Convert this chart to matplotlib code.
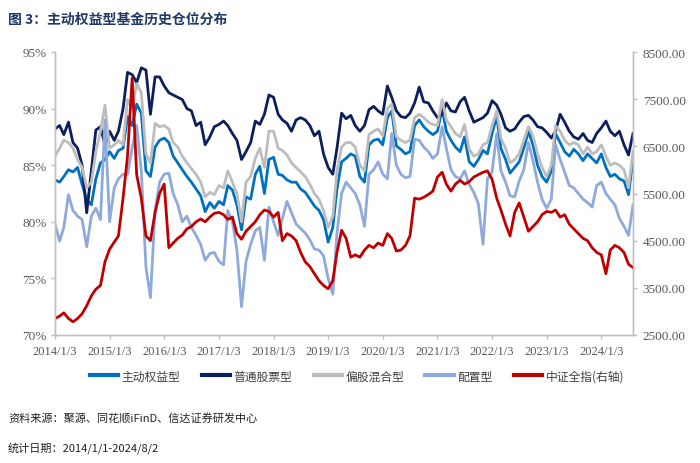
import matplotlib
matplotlib.use("Agg")
import matplotlib.pyplot as plt
import matplotlib.dates as mdates
import pandas as pd
from matplotlib.ticker import FuncFormatter

plt.rcParams['font.family'] = ['Liberation Serif', 'Noto Sans CJK SC', 'DejaVu Sans']

# ---------------- data ----------------
dates = [pd.Timestamp(2014, 1, 3) + pd.DateOffset(months=i) for i in range(127)] + [pd.Timestamp(2024, 8, 2)]

active_equity = [  # 主动权益型 (%)
    83.7, 83.5, 84.0, 84.6, 84.4, 84.8, 83.3, 82.0, 81.5, 83.8, 85.2, 85.5,
    86.2, 85.6, 86.3, 86.5, 89.3, 88.5, 90.4, 89.6, 84.5, 84.0, 86.6, 87.2,
    87.4, 87.0, 85.8, 85.2, 84.6, 84.0, 83.5, 82.9, 82.3, 80.9, 81.7, 81.2,
    81.8, 81.5, 83.2, 82.8, 81.5, 79.3, 82.2, 82.0, 84.2, 84.9, 82.5, 85.5,
    85.7, 84.2, 84.1, 83.7, 83.5, 83.5, 82.9, 82.6, 82.0, 81.4, 81.0, 80.2,
    78.2, 79.5, 82.9, 85.3, 85.6, 86.0, 85.8, 84.0, 83.5, 86.8, 87.2, 87.3,
    86.8, 89.2, 89.8, 86.7, 86.4, 86.0, 86.2, 88.5, 89.0, 88.4, 88.0, 87.7,
    88.0, 90.0, 88.0, 87.2, 86.6, 86.2, 87.5, 85.3, 84.9, 85.5, 86.3, 86.0,
    87.8, 89.3, 86.5, 85.5, 84.3, 84.8, 85.3, 86.5, 88.0, 86.8, 85.0, 84.0,
    83.5, 84.5, 87.8, 87.0, 86.2, 85.8, 86.4, 86.0, 85.4, 86.0, 85.6, 85.2,
    86.0, 84.8, 84.0, 84.2, 83.8, 83.6, 82.4, 85.5]

stock_fund = [  # 普通股票型 (%)
    88.2, 88.5, 87.7, 88.8, 87.0, 86.5, 85.0, 80.8, 84.5, 88.1, 88.4, 86.8,
    88.0, 87.2, 88.0, 90.0, 93.2, 93.0, 92.3, 93.6, 93.4, 89.5, 92.8, 92.8,
    92.0, 91.4, 91.2, 91.0, 90.8, 90.0, 89.8, 88.5, 88.8, 86.8, 87.5, 88.4,
    88.6, 88.9, 88.5, 87.8, 87.2, 85.5, 86.2, 87.0, 88.9, 88.6, 89.5, 91.2,
    91.0, 89.5, 89.0, 88.7, 88.0, 89.0, 89.2, 89.0, 88.5, 87.6, 88.0, 86.0,
    84.8, 84.2, 86.5, 89.6, 89.1, 89.4, 88.5, 88.0, 88.5, 89.9, 90.2, 89.8,
    89.5, 92.0, 91.0, 89.8, 89.3, 89.2, 89.6, 90.5, 91.9, 90.6, 90.5, 89.8,
    89.2, 89.5, 90.5, 89.8, 89.7, 90.6, 91.0, 89.8, 88.8, 89.0, 89.2, 89.6,
    90.7, 90.3, 89.5, 88.3, 88.0, 88.2, 88.8, 89.3, 89.4, 89.0, 88.4, 88.3,
    87.9, 87.4, 88.0, 89.5, 88.8, 88.0, 87.5, 87.3, 87.8, 87.2, 87.0, 87.8,
    88.3, 88.9, 88.0, 87.6, 88.0, 86.8, 85.9, 87.8]

hybrid_fund = [  # 偏股混合型 (%)
    85.8, 86.5, 87.2, 87.0, 86.5, 85.5, 84.8, 83.0, 83.5, 86.2, 88.0, 90.3,
    86.5, 86.8, 87.2, 86.8, 90.8, 90.0, 92.2, 91.4, 86.0, 85.2, 88.7, 88.4,
    88.5, 88.2, 87.0, 86.6, 85.8, 85.2, 84.7, 84.2, 83.5, 82.2, 82.6, 82.4,
    83.2, 83.0, 84.5, 83.5, 82.5, 80.0, 83.5, 84.0, 85.6, 86.5, 84.8, 88.0,
    88.0, 86.5, 86.3, 85.9, 85.2, 84.8, 84.4, 84.0, 83.3, 82.5, 82.0, 81.0,
    79.5, 80.5, 84.5, 86.6, 87.0, 87.0, 86.6, 85.0, 84.5, 87.7, 88.0, 88.2,
    87.6, 90.0, 90.4, 87.5, 87.2, 87.0, 87.2, 89.2, 89.5, 89.2, 88.8, 88.6,
    88.5, 90.8, 89.0, 88.4, 87.8, 87.5, 88.6, 86.4, 85.8, 86.0, 86.8, 87.0,
    88.5, 89.8, 87.4, 86.5, 85.2, 85.5, 86.0, 87.2, 88.4, 87.6, 86.0, 84.8,
    84.0, 85.0, 88.5, 88.0, 87.2, 86.8, 87.0, 86.8, 86.0, 86.6, 86.0, 86.2,
    86.8, 85.8, 85.0, 85.2, 85.0, 84.6, 83.0, 86.2]

allocation_fund = [  # 配置型 (%)
    79.8, 78.3, 79.5, 82.4, 81.0, 80.5, 80.2, 77.8, 80.5, 81.2, 80.2, 89.0,
    80.0, 83.0, 83.8, 84.2, 84.2, 86.5, 88.5, 84.5, 76.0, 73.3, 81.0, 83.5,
    84.2, 84.3, 82.5, 81.5, 80.0, 80.5, 79.5, 78.8, 78.0, 76.6, 77.2, 77.3,
    76.5, 76.2, 81.0, 80.0, 77.5, 72.5, 76.5, 78.0, 79.2, 79.5, 76.6, 81.3,
    80.0, 78.8, 80.3, 81.8, 80.8, 79.8, 79.4, 79.0, 78.4, 77.6, 77.5, 77.0,
    75.0, 73.6, 79.0, 82.5, 83.5, 83.0, 82.5, 81.5, 79.6, 84.2, 84.6, 85.3,
    84.2, 83.8, 87.8, 85.0, 84.2, 83.9, 84.0, 87.3, 87.2, 86.6, 86.2, 85.6,
    86.0, 88.4, 86.5, 84.6, 84.0, 83.8, 84.5, 83.3, 82.6, 81.6, 78.0, 83.8,
    84.4, 87.8, 84.5, 83.5, 82.3, 82.2, 83.6, 84.6, 87.0, 85.4, 83.5, 82.0,
    81.2, 82.0, 86.8, 85.5, 84.4, 83.2, 83.0, 82.5, 82.0, 81.7, 81.3, 83.2,
    83.5, 82.5, 82.0, 81.5, 80.3, 79.6, 78.8, 81.5]

csi_all = [  # 中证全指 (右轴)
    2850, 2900, 2970, 2850, 2780, 2850, 2950, 3120, 3330, 3470, 3550, 4050,
    4320, 4470, 4600, 5400, 6300, 7950, 5900, 5400, 4600, 4500, 5100, 5500,
    5700, 4350, 4450, 4550, 4620, 4750, 4800, 4900, 4960, 4900, 5000, 5080,
    5100, 5050, 4950, 5000, 4650, 4530, 4700, 4800, 4900, 5050, 5150, 5120,
    5000, 5100, 4500, 4650, 4600, 4500, 4250, 4050, 3950, 3800, 3650, 3550,
    3480, 3650, 4250, 4720, 4550, 4150, 4200, 4150, 4300, 4400, 4350, 4450,
    4400, 4650, 4550, 4280, 4300, 4400, 4600, 5400, 5380, 5420, 5480, 5550,
    5850, 5950, 5700, 5550, 5700, 5780, 5700, 5750, 5850, 5900, 5950, 5980,
    5800, 5400, 5150, 4850, 4600, 5100, 5300, 5000, 4700, 4800, 4900, 5050,
    5120, 5100, 5150, 5000, 5050, 4850, 4750, 4650, 4550, 4500, 4350, 4250,
    4200, 3800, 4300, 4400, 4350, 4250, 4000, 3930]

series_names = ['主动权益型', '普通股票型', '偏股混合型', '配置型', '中证全指(右轴)']
year_ticks = [pd.Timestamp(y, 1, 3) for y in range(2014, 2025)]
left_ticks = [70, 75, 80, 85, 90, 95]
right_ticks = [2500, 3500, 4500, 5500, 6500, 7500, 8500]

# ---------------- figure ----------------
fig = plt.figure(figsize=(7.0, 4.64), dpi=100)
ax = fig.add_axes([55 / 700, 1 - 336 / 464, (633 - 55) / 700, (336 - 53) / 464])
ax2 = ax.twinx()

lw = 2.0
cols = ['#0070C0', '#0A1F5C', '#BDBDBD', '#8EA9DB', '#C00000']
h1, = ax.plot(dates, active_equity, color=cols[0], lw=lw)
h2, = ax.plot(dates, stock_fund, color=cols[1], lw=lw)
h3, = ax.plot(dates, hybrid_fund, color=cols[2], lw=lw)
h4, = ax.plot(dates, allocation_fund, color=cols[3], lw=lw)
h5, = ax2.plot(dates, csi_all, color=cols[4], lw=lw)

ax.set_xlim(pd.Timestamp(2014, 1, 3), pd.Timestamp(2024, 8, 2))
ax.set_ylim(70, 95)
ax2.set_ylim(2500, 8500)
ax.set_yticks(left_ticks)
ax2.set_yticks(right_ticks)
ax.yaxis.set_major_formatter(FuncFormatter(lambda v, p: f"{v:.0f}%"))
ax2.yaxis.set_major_formatter(FuncFormatter(lambda v, p: f"{v:.2f}"))
ax.set_xticks(year_ticks)
ax.xaxis.set_major_formatter(FuncFormatter(lambda v, p: f"{mdates.num2date(v).year}/1/3"))

spine_c = '#BFBFBF'
tick_c = '#595959'
for a in (ax, ax2):
    a.spines['top'].set_visible(False)
    for s in ('left', 'right', 'bottom'):
        a.spines[s].set_color(spine_c)
        a.spines[s].set_linewidth(1.0)
    a.tick_params(colors=spine_c, labelcolor=tick_c, labelsize=9.5, length=3, width=1.0)
ax.tick_params(axis='x', pad=4, labelsize=9)
ax.tick_params(axis='y', pad=3)
ax2.tick_params(axis='y', pad=4)

# title
fig.text(8 / 700, 1 - 20 / 464, '图 3：主动权益型基金历史仓位分布', fontsize=10,
         fontweight='bold', color='#1F3864', va='center', ha='left',
         family=['Noto Sans CJK SC', 'DejaVu Sans'])

# legend
leg = fig.legend([h1, h2, h3, h4, h5], series_names, loc='center',
                 bbox_to_anchor=(357 / 700, 1 - 377 / 464), ncol=5, frameon=False,
                 handlelength=2.4, handletextpad=0.3, columnspacing=1.8,
                 prop={'family': ['Noto Sans CJK SC', 'DejaVu Sans'], 'size': 8.5})
for t in leg.get_texts():
    t.set_color('#404040')
for l in leg.get_lines():
    l.set_linewidth(3.0)

# footnotes
fig.text(8 / 700, 1 - 419 / 464, '资料来源：聚源、同花顺iFinD、信达证券研发中心', fontsize=8,
         color='#222222', va='center', ha='left', style='italic',
         family=['Noto Sans CJK SC', 'DejaVu Sans'])
fig.text(8 / 700, 1 - 448 / 464, '统计日期：2014/1/1-2024/8/2', fontsize=8,
         color='#222222', va='center', ha='left', style='italic',
         family=['Noto Sans CJK SC', 'DejaVu Sans'])

fig.savefig('out.png', dpi=100)
